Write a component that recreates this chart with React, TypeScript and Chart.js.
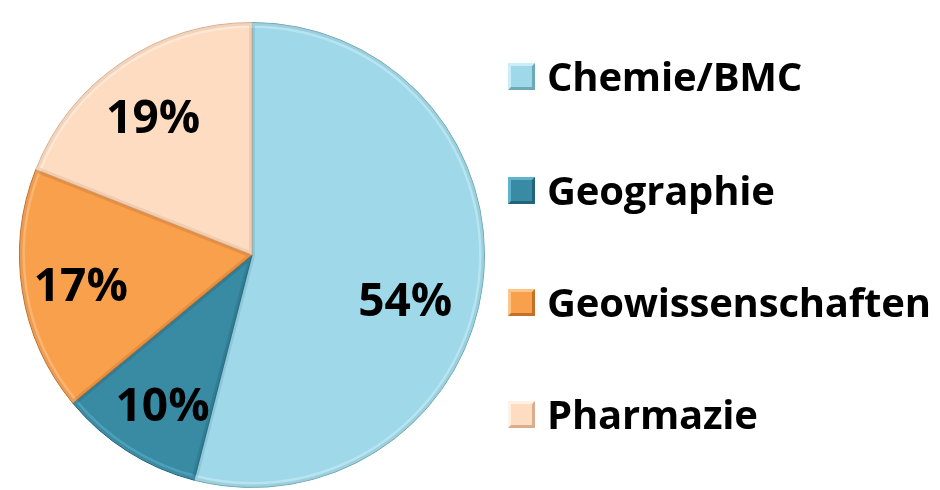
import React, { useEffect, useRef } from "react";
import { Chart, registerables } from "chart.js";

Chart.register(...registerables);

const categories = ["Chemie/BMC", "Geographie", "Geowissenschaften", "Pharmazie"];
const values = [54, 10, 17, 19];
const valueLabels = ["54%", "10%", "17%", "19%"];
const colors = ["#9fd8e8", "#388ba3", "#f9a04d", "#fddcc1"];
const edgeColors = ["#6fa9b8", "#22647a", "#c2702a", "#d9ae8f"];
const lightColors = ["#c9eef7", "#5fb3cc", "#ffc48a", "#fff1e4"];

// label placement: radius factor and angular nudge (degrees) per slice
const labelRadius = [0.69, 0.76, 0.75, 0.72];
const labelNudge = [10, -2, -2, -2];

const FONT = "'Open Sans', Lato, 'DejaVu Sans', sans-serif";

const bevelPlugin = {
  id: "bevel",
  afterDatasetsDraw(chart: any) {
    const ctx = chart.ctx;
    const meta = chart.getDatasetMeta(0);
    meta.data.forEach((arc: any, i: number) => {
      const { x, y, startAngle, endAngle, outerRadius } = arc.getProps(
        ["x", "y", "startAngle", "endAngle", "outerRadius"],
        true
      );
      ctx.save();
      ctx.beginPath();
      ctx.moveTo(x, y);
      ctx.arc(x, y, outerRadius, startAngle, endAngle);
      ctx.closePath();
      ctx.clip();
      ctx.beginPath();
      ctx.arc(x, y, outerRadius - 3, startAngle, endAngle);
      ctx.strokeStyle = lightColors[i];
      ctx.globalAlpha = 0.55;
      ctx.lineWidth = 5;
      ctx.stroke();
      ctx.globalAlpha = 0.35;
      ctx.beginPath();
      ctx.moveTo(x, y);
      ctx.arc(x, y, outerRadius, startAngle, endAngle);
      ctx.closePath();
      ctx.strokeStyle = edgeColors[i];
      ctx.lineWidth = 6;
      ctx.stroke();
      ctx.restore();
    });
  },
};

const labelPlugin = {
  id: "sliceLabels",
  afterDatasetsDraw(chart: any) {
    const ctx = chart.ctx;
    const meta = chart.getDatasetMeta(0);
    ctx.save();
    ctx.font = `bold 46px ${FONT}`;
    ctx.fillStyle = "#000000";
    ctx.textAlign = "center";
    ctx.textBaseline = "middle";
    meta.data.forEach((arc: any, i: number) => {
      const { x, y, startAngle, endAngle, outerRadius } = arc.getProps(
        ["x", "y", "startAngle", "endAngle", "outerRadius"],
        true
      );
      const mid = (startAngle + endAngle) / 2 + (labelNudge[i] * Math.PI) / 180;
      const r = outerRadius * labelRadius[i];
      ctx.fillText(valueLabels[i], x + Math.cos(mid) * r, y + Math.sin(mid) * r);
    });
    ctx.restore();
  },
};

function LegendBox({ color, edge, light }: { color: string; edge: string; light: string }) {
  return (
    <div
      style={{
        width: 21,
        height: 21,
        background: color,
        borderTop: `3px solid ${light}`,
        borderLeft: `3px solid ${light}`,
        borderRight: `3px solid ${edge}`,
        borderBottom: `3px solid ${edge}`,
        boxSizing: "content-box",
        flex: "none",
      }}
    />
  );
}

export default function App() {
  const ref = useRef<HTMLCanvasElement>(null);

  useEffect(() => {
    if (!ref.current) return;
    const chart = new Chart(ref.current, {
      type: "pie",
      data: {
        labels: categories,
        datasets: [
          {
            data: values,
            backgroundColor: colors,
            borderColor: edgeColors,
            borderWidth: 1,
          },
        ],
      },
      options: {
        responsive: false,
        animation: false,
        layout: { padding: { left: 19, right: 455, top: 22, bottom: 2 } },
        plugins: {
          legend: { display: false },
          tooltip: { enabled: false },
        },
      },
      plugins: [bevelPlugin, labelPlugin],
    });
    return () => chart.destroy();
  }, []);

  const rowTops = [76, 190, 302, 414];

  return (
    <div
      style={{
        position: "fixed",
        left: 0,
        top: 0,
        width: 940,
        height: 490,
        background: "#ffffff",
        overflow: "hidden",
      }}
    >
      <canvas ref={ref} width={940} height={490} style={{ position: "absolute", left: 0, top: 0 }} />
      {categories.map((c, i) => (
        <div
          key={c}
          style={{
            position: "absolute",
            left: 508,
            top: rowTops[i] - 25,
            height: 50,
            display: "flex",
            alignItems: "center",
            whiteSpace: "nowrap",
          }}
        >
          <LegendBox color={colors[i]} edge={edgeColors[i]} light={lightColors[i]} />
          <span
            style={{
              marginLeft: 12,
              fontFamily: FONT,
              fontWeight: "bold",
              fontSize: 40,
              color: "#000",
              lineHeight: "50px",
              letterSpacing: -0.2,
            }}
          >
            {c}
          </span>
        </div>
      ))}
    </div>
  );
}
